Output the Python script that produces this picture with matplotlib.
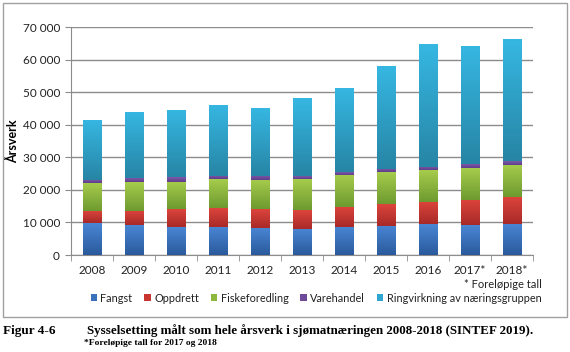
import numpy as np
import matplotlib
matplotlib.use("Agg")
import matplotlib.pyplot as plt
from matplotlib.colors import LinearSegmentedColormap
from matplotlib.patches import Rectangle, Patch
from matplotlib.ticker import FuncFormatter, MultipleLocator

plt.rcParams["font.family"] = ["Lato", "DejaVu Sans"]

years = ["2008", "2009", "2010", "2011", "2012", "2013", "2014", "2015", "2016", "2017*", "2018*"]
series_names = ["Fangst", "Oppdrett", "Fiskeforedling", "Varehandel", "Ringvirkning av næringsgruppen"]

fangst = [9700, 9200, 8500, 8700, 8300, 8100, 8600, 9000, 9400, 9200, 9600]
oppdrett = [3900, 4400, 5500, 5600, 5700, 5700, 6200, 6600, 6800, 7700, 8100]
fiskeforedling = [8400, 8700, 8500, 8900, 9000, 9500, 9900, 9800, 9800, 9800, 10000]
varehandel = [1000, 1200, 1300, 1200, 1300, 900, 800, 1100, 1000, 1200, 1200]
ringvirkning = [18600, 20500, 20700, 21800, 20900, 23900, 25800, 31400, 37700, 36300, 37300]

# (bottom colour, top colour) for the vertical gradient
colors = [
    ("#2a5a9c", "#4a86d4"),
    ("#a82a28", "#dc443c"),
    ("#6e9a30", "#a6cc4c"),
    ("#5e3e8a", "#7d58aa"),
    ("#2785a5", "#36b7e2"),
]
legend_colors = ["#3a70bc", "#c8362f", "#8cb83e", "#6e4a9a", "#2fa6d0"]

fig = plt.figure(figsize=(5.7, 3.52), dpi=100)
ax = fig.add_axes([71 / 570, 1 - 255 / 352, 462 / 570, 228 / 352])

x = np.arange(len(years))
bottom = np.zeros(len(years))
grad = np.linspace(0, 1, 64).reshape(-1, 1)
for vals, (c0, c1) in zip([fangst, oppdrett, fiskeforedling, varehandel, ringvirkning], colors):
    bars = ax.bar(x, vals, width=0.43, bottom=bottom, zorder=3)
    cmap = LinearSegmentedColormap.from_list("g", [c0, c1])
    for p in bars:
        bx, by = p.get_x(), p.get_y()
        w, h = p.get_width(), p.get_height()
        p.set_facecolor("none")
        p.set_edgecolor("none")
        im = ax.imshow(grad, extent=[bx, bx + w, by, by + h], origin="lower",
                       aspect="auto", cmap=cmap, zorder=3)
        im.set_clip_path(p)
    bottom += np.array(vals)

ax.set_xlim(-0.5, len(years) - 0.5)
ax.set_ylim(0, 70000)
ax.set_aspect("auto")

ax.yaxis.set_major_locator(MultipleLocator(10000))
ax.yaxis.set_major_formatter(FuncFormatter(lambda v, pos: f"{int(v):,}".replace(",", " ")))
ax.grid(axis="y", color="#8c8c8c", linewidth=1.0, zorder=0)
ax.set_axisbelow(True)

ax.set_xticks(x)
ax.set_xticklabels(years)
ax.set_xticks(np.arange(-0.5, len(years)), minor=True)
ax.tick_params(axis="x", which="major", length=0, pad=7, labelsize=8.5, colors="#222222")
ax.tick_params(axis="x", which="minor", length=4, color="#8c8c8c", direction="out")
ax.tick_params(axis="y", length=4, color="#8c8c8c", labelsize=8.5, labelcolor="#222222", pad=4)

for s in ["top", "right"]:
    ax.spines[s].set_visible(False)
ax.spines["left"].set_color("#8c8c8c")
ax.spines["bottom"].set_color("#8c8c8c")

ax.set_ylabel("Årsverk", fontsize=9, fontweight="bold")
ax.yaxis.set_label_coords((19 - 71) / 462, 0.5)

fig.text(503 / 570, 1 - 284 / 352, "* Foreløpige tall", fontsize=8, ha="center", va="center", color="#222222")

handles = [Patch(facecolor=c, edgecolor="none") for c in legend_colors]
fig.legend(handles, series_names, loc="center", bbox_to_anchor=(316 / 570, 1 - 298 / 352), ncol=5,
           frameon=False, fontsize=7.8, handlelength=0.6, handleheight=0.6, handletextpad=0.3,
           columnspacing=1.1, labelcolor="#222222")

# outer chart border
fig.patches.append(Rectangle((3 / 570, 1 - 317 / 352), 564 / 570, 314 / 352, transform=fig.transFigure,
                             fill=False, edgecolor="#a0a0a0", linewidth=1.0))

serif = ["Liberation Serif", "DejaVu Serif"]
fig.text(3 / 570, 1 - 331 / 352, "Figur 4-6", family=serif, fontsize=9.5, fontweight="bold", va="center")
fig.text(87 / 570, 1 - 331 / 352, "Sysselsetting målt som hele årsverk i sjømatnæringen 2008-2018 (SINTEF 2019).",
         family=serif, fontsize=9.4, fontweight="bold", va="center")
fig.text(84 / 570, 1 - 343 / 352, "*Foreløpige tall for 2017 og 2018", family=serif, fontsize=6.8,
         fontweight="bold", va="center")

fig.savefig("out.png", dpi=100)
